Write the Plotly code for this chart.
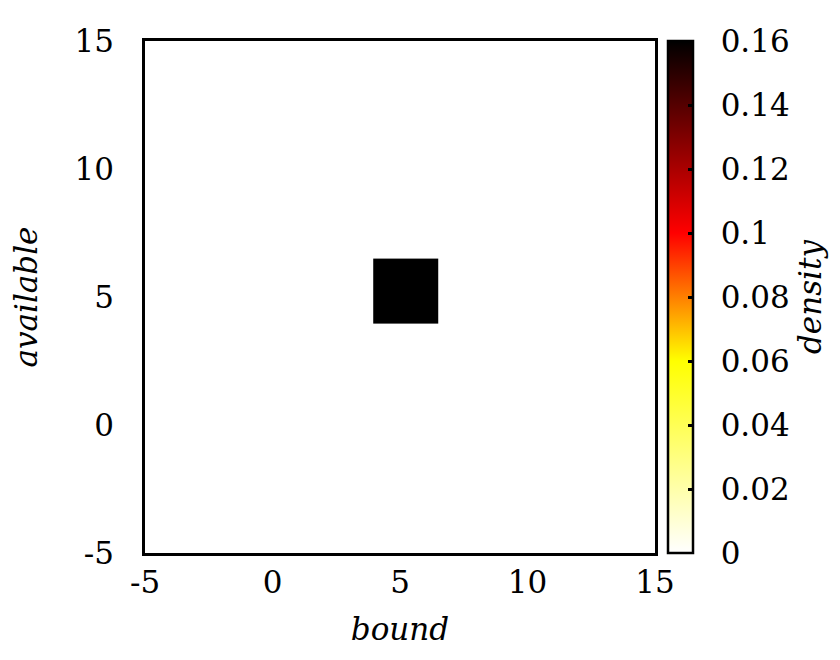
import plotly.graph_objects as go

# bin edges of the single occupied cell and its density
bound_edges = [3.95, 6.5]
available_edges = [3.95, 6.5]
density = [[0.16]]

cb_ticks = [0, 0.02, 0.04, 0.06, 0.08, 0.1, 0.12, 0.14, 0.16]
cb_text = ["0", "0.02", "0.04", "0.06", "0.08", "0.1", "0.12", "0.14", "0.16"]

FONT = "DejaVu Serif"
SIZE = 31
PAD = "\u00a0\u00a0"

hot = [
    [0.0, "rgb(255,255,255)"],
    [0.375, "rgb(255,255,0)"],
    [0.625, "rgb(255,0,0)"],
    [1.0, "rgb(0,0,0)"],
]

fig = go.Figure()
fig.add_trace(go.Heatmap(
    x=bound_edges,
    y=available_edges,
    z=density,
    zmin=0,
    zmax=0.16,
    colorscale=hot,
    colorbar=dict(
        x=1.0255, xanchor="left", xpad=0, ypad=0,
        y=0.5, yanchor="middle", len=1,
        thickness=25,
        outlinecolor="black", outlinewidth=2.5,
        tickmode="array", tickvals=cb_ticks,
        ticktext=[PAD + t for t in cb_text],
        ticks="inside", ticklen=6, tickwidth=2.5, tickcolor="black",
        tickfont=dict(family=FONT, size=SIZE, color="black"),
        title=dict(text="\u00a0<i>density</i>", side="right",
                   font=dict(family=FONT, size=SIZE, color="black")),
    ),
))

axis_common = dict(
    range=[-5, 15],
    tickmode="array",
    tickvals=[-5, 0, 5, 10, 15],
    ticktext=["-5", "0", "5", "10", "15"],
    showgrid=False,
    zeroline=False,
    showline=True,
    mirror=True,
    linecolor="black",
    linewidth=2.5,
    ticks="",
    tickfont=dict(family=FONT, size=SIZE, color="black"),
)

fig.update_xaxes(**axis_common, ticklabelstandoff=0,
                 title=dict(text="<i>bound</i>", standoff=20,
                            font=dict(family=FONT, size=SIZE, color="black")))
fig.update_yaxes(**axis_common, ticklabelstandoff=22,
                 title=dict(text="<i>available</i>", standoff=30,
                            font=dict(family=FONT, size=SIZE, color="black")))

fig.update_layout(
    width=840,
    height=660,
    margin=dict(l=137, r=193, t=33, b=115),
    plot_bgcolor="white",
    paper_bgcolor="white",
    font=dict(family=FONT, size=SIZE, color="black"),
)

fig.write_html("out.html")
